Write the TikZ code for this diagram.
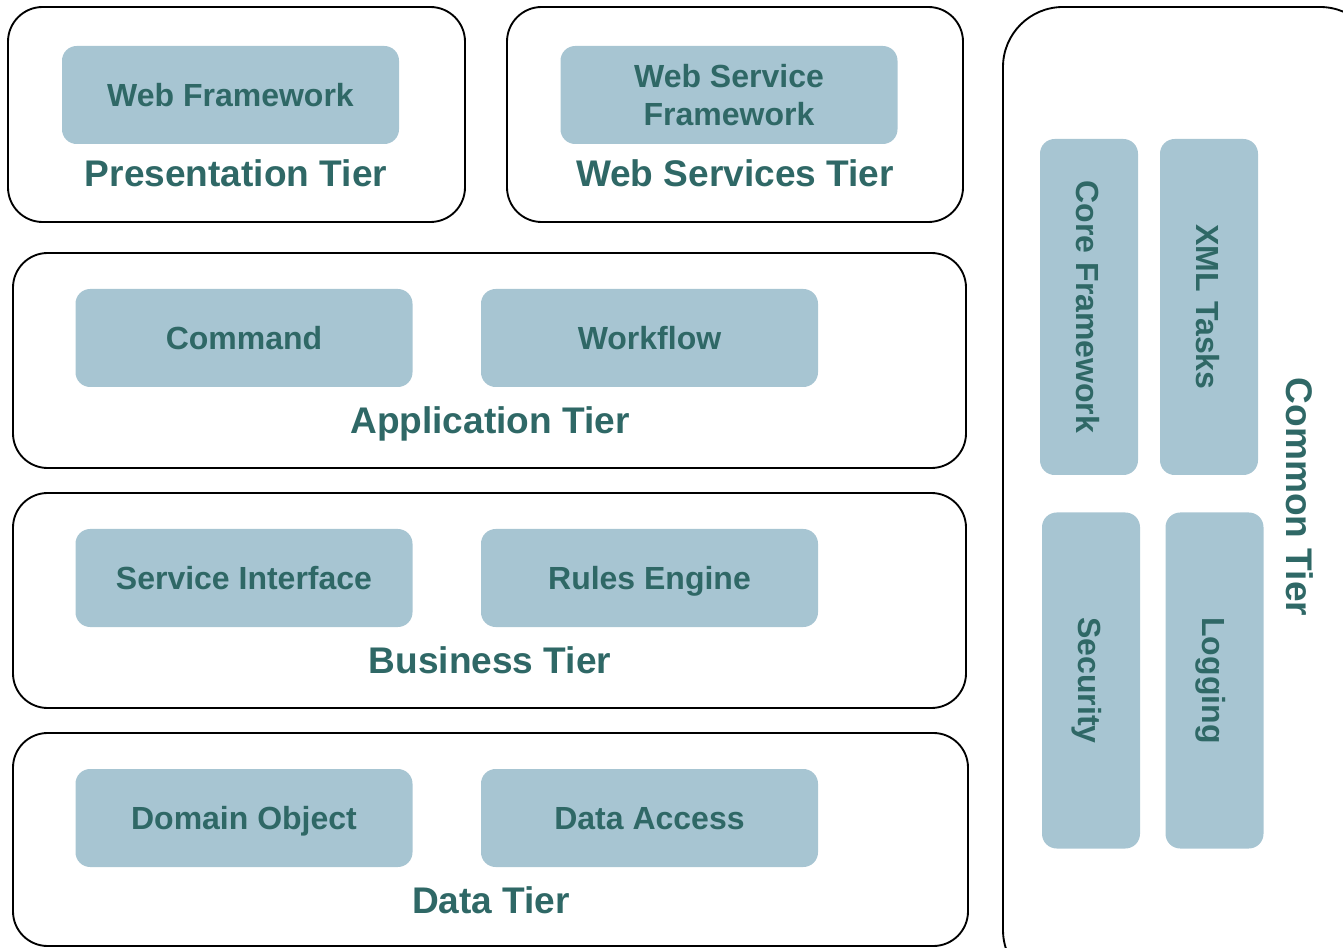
\documentclass[tikz,border=0pt]{standalone}
\usepackage{fontspec}
\setmainfont{Liberation Sans}
\definecolor{boxfill}{RGB}{167,197,210}
\definecolor{txt}{RGB}{47,104,102}
\begin{document}
\begin{tikzpicture}[x=0.75pt,y=-0.75pt,
  tier/.style={draw=black,line width=1.4pt,rounded corners=26pt,rectangle,inner sep=0pt},
  compbase/.style={fill=boxfill,rounded corners=11pt,rectangle,inner sep=0pt,text=txt,
    font=\fontsize{24}{28}\selectfont\bfseries,align=center,
    minimum width=252.75pt,minimum height=73.5pt},
  comp/.style={compbase,text height=17.2pt,text depth=0pt},
  vcomp/.style={fill=boxfill,rounded corners=11pt,rectangle,inner sep=0pt,
    minimum width=73.5pt,minimum height=252pt},
  vtext/.style={text=txt,font=\fontsize{24}{28}\selectfont\bfseries,rotate=-90,inner sep=0pt,
    text height=17.2pt,text depth=0pt},
  tlabel/.style={text=txt,font=\fontsize{27.8}{32}\selectfont\bfseries,inner sep=0pt,
    text height=20pt,text depth=0pt}]
\useasboundingbox (0,0) rectangle (1343,948);
\clip (0,0) rectangle (1343,948);
% outer tiers
\node[tier,minimum width=342.75pt,minimum height=161.25pt] (pres) at (236.5,114.5) {};
\node[tier,minimum width=342pt,minimum height=161.25pt] (ws) at (735,114.5) {};
\node[tier,minimum width=714.75pt,minimum height=161.25pt] (app) at (489.5,360.5) {};
\node[tier,minimum width=714.75pt,minimum height=161.25pt] (bus) at (489.5,600.5) {};
\node[tier,minimum width=716.25pt,minimum height=159.75pt] (data) at (490.5,839.5) {};
\node[tier,rounded corners=45pt,minimum width=282.75pt,minimum height=737.25pt] (common) at (1191.5,498.5) {};
% components
\node[comp] (webfw) at (230.5,95) {Web Framework};
\node[compbase] (wsfw) at (729,95) {Web Service\\Framework};
\node[comp] (cmd) at (244,338) {Command};
\node[comp] (wf) at (649.5,338) {Workflow};
\node[comp] (si) at (244,578) {Service Interface};
\node[comp] (re) at (649.5,578) {Rules Engine};
\node[comp] (dom) at (244,818) {Domain Object};
\node[comp] (da) at (649.5,818) {Data Access};
% vertical components
\node[vcomp] (core) at (1089,307) {};
\node[vtext] at (1088,307) {Core Framework};
\node[vcomp] (xml) at (1209,307) {};
\node[vtext] at (1208,307) {XML Tasks};
\node[vcomp] (sec) at (1091,680.5) {};
\node[vtext] at (1090,680.5) {Security};
\node[vcomp] (log) at (1214.5,680.5) {};
\node[vtext] at (1213.5,680.5) {Logging};
% tier labels
\node[tlabel] (lpres) at (236,173.5) {Presentation Tier};
\node[tlabel] (lws) at (735,173.5) {Web Services Tier};
\node[tlabel] (lapp) at (490,420) {Application Tier};
\node[tlabel] (lbus) at (490,660) {Business Tier};
\node[tlabel] (ldata) at (491,900) {Data Tier};
\node[tlabel,rotate=-90] (lcommon) at (1300,497) {Common Tier};
\end{tikzpicture}
\end{document}
